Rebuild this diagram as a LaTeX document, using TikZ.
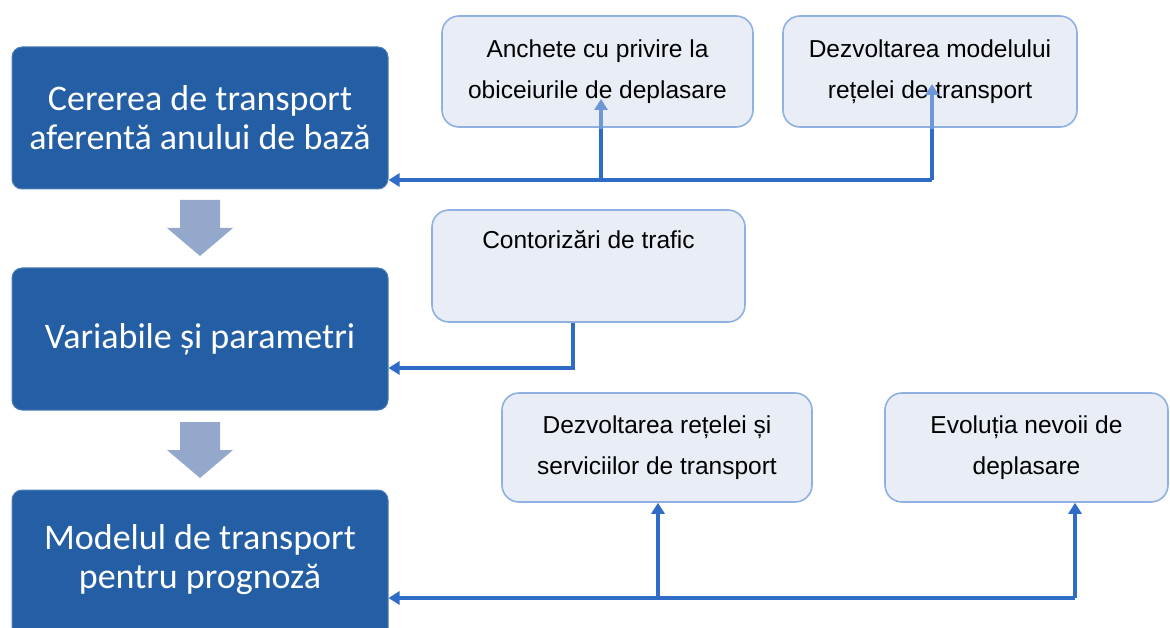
\documentclass[tikz,border=0pt]{standalone}
\usepackage{fontspec}
\setmainfont{Liberation Sans}
\newfontfamily\calfont{Carlito}
\newfontfamily\lightfont{Liberation Sans}
\usetikzlibrary{arrows.meta,calc}
\definecolor{darkbox}{HTML}{245EA4}
\definecolor{lightfill}{HTML}{E9EEF6}
\definecolor{lightdraw}{HTML}{8FB1E2}
\definecolor{connc}{HTML}{2F6CC8}
\definecolor{connin}{HTML}{6D97D8}
\definecolor{blockarr}{HTML}{94A8CC}
\tikzset{
  darknode/.style={draw=darkbox!80!white, line width=1pt, fill=darkbox, rounded corners=10pt, text=white, font=\calfont\fontsize{36}{39}\selectfont, align=center, inner sep=0pt},
  lighttext/.style={text=black, font=\lightfont\fontsize{24.5}{41}\selectfont, align=center, inner sep=0pt},
  lightnode/.style={lighttext, draw=lightdraw, line width=1.6pt, fill=lightfill, rounded corners=17pt},
  conn/.style={draw=connc, line width=3.5pt},
  connarrow/.style={conn, -{Triangle[length=11pt,width=13pt]}},
  innerarrow/.style={draw=connin, line width=3.5pt, -{Triangle[length=11pt,width=13pt]}},
  blockarrow/.style={fill=blockarr, draw=none}
}
\begin{document}
\begin{tikzpicture}[x=1pt,y=-1pt]
\useasboundingbox (0,0) rectangle (1170,628);
% main boxes
\node[darknode, minimum width=376pt, minimum height=142pt] (b1) at (200,118) {Cererea de transport\\aferentă anului de bază};
\node[darknode, minimum width=376pt, minimum height=142pt] (b2) at (200,339) {Variabile și parametri};
\node[darknode, minimum width=376pt, minimum height=150pt] (b3) at (200,565) {};
\node[text=white, font=\calfont\fontsize{36}{39}\selectfont, align=center] (t3) at (200,560) {Modelul de transport\\pentru prognoză};
% block arrows
\path[blockarrow] (180,200) -- (220,200) -- (220,228) -- (233,228) -- (200,256) -- (167,228) -- (180,228) -- cycle;
\path[blockarrow] (180,422) -- (220,422) -- (220,450) -- (233,450) -- (200,478) -- (167,450) -- (180,450) -- cycle;
% light boxes
\node[lightnode, minimum width=311pt, minimum height=111pt] (la) at (597.5,71.5) {Anchete cu privire la\\obiceiurile de deplasare};
\node[lightnode, minimum width=294pt, minimum height=111pt] (lb) at (930,71.5) {Dezvoltarea modelului\\rețelei de transport};
\node[lightnode, minimum width=313pt, minimum height=112pt] (lc) at (588.5,266) {};
\node[lighttext] (tc) at (588.5,240) {Contorizări de trafic};
\node[lightnode, minimum width=310pt, minimum height=109pt] (ld) at (657,447.5) {Dezvoltarea rețelei și\\serviciilor de transport};
\node[lightnode, minimum width=283pt, minimum height=109pt] (le) at (1026.5,447.5) {Evoluția nevoii de\\deplasare};
% junction coordinates
\coordinate (ja) at (601,180);
\coordinate (jb) at (932,180);
\coordinate (ta) at (601,99);
\coordinate (tb) at (932,84);
\coordinate (jc) at (573,368);
\coordinate (jd) at (658,598);
\coordinate (je) at (1075,598);
% connectors
\draw[conn] (jb) -- (ja);
\draw[connarrow] (ja) -- (b1.east |- ja);
\draw[conn] (ja) -- ([yshift=-0.8pt]la.south -| ja);
\draw[innerarrow] ([yshift=-0.8pt]la.south -| ja) -- (ta);
\draw[conn] (jb) -- ([yshift=-0.8pt]lb.south -| jb);
\draw[innerarrow] ([yshift=-0.8pt]lb.south -| jb) -- (tb);
\draw[connarrow] (lc.south -| jc) -- (jc) -- (b2.east |- jc);
\draw[conn] (je) -- (jd);
\draw[connarrow] (jd) -- (b3.east |- jd);
\draw[connarrow] (jd) -- (ld.south -| jd);
\draw[connarrow] (je) -- (le.south -| je);
\end{tikzpicture}
\end{document}
